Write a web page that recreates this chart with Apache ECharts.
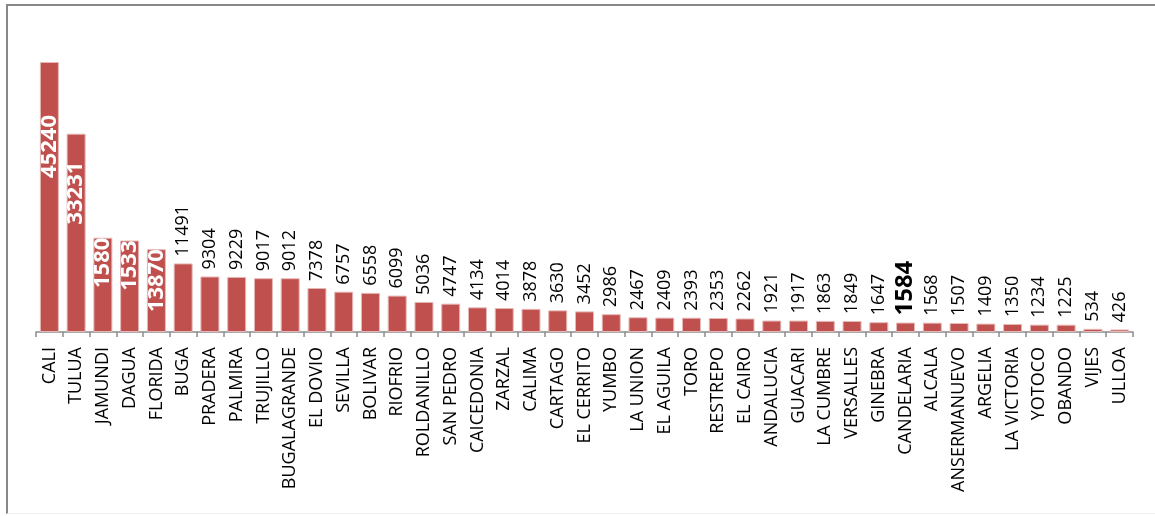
<!DOCTYPE html>
<html>
<head>
<meta charset="utf-8">
<script src="https://cdn.jsdelivr.net/npm/echarts@6/dist/echarts.min.js"></script>
<style>
html,body{margin:0;padding:0;background:#fff;}
#frame{position:absolute;left:6px;top:4px;width:1160px;height:510px;border-left:2px solid #888;border-top:2px solid #888;border-bottom:1px solid #eee;box-sizing:border-box;}
#chart{position:absolute;left:0;top:0;width:1155px;height:516px;}
</style>
</head>
<body>
<div id="frame"></div>
<div id="chart"></div>
<script>
const categories = ["CALI","TULUA","JAMUNDI","DAGUA","FLORIDA","BUGA","PRADERA","PALMIRA","TRUJILLO","BUGALAGRANDE","EL DOVIO","SEVILLA","BOLIVAR","RIOFRIO","ROLDANILLO","SAN PEDRO","CAICEDONIA","ZARZAL","CALIMA","CARTAGO","EL CERRITO","YUMBO","LA UNION","EL AGUILA","TORO","RESTREPO","EL CAIRO","ANDALUCIA","GUACARI","LA CUMBRE","VERSALLES","GINEBRA","CANDELARIA","ALCALA","ANSERMANUEVO","ARGELIA","LA VICTORIA","YOTOCO","OBANDO","VIJES","ULLOA"];
const values = [45240,33231,15800,15330,13870,11491,9304,9229,9017,9012,7378,6757,6558,6099,5036,4747,4134,4014,3878,3630,3452,2986,2467,2409,2393,2353,2262,1921,1917,1863,1849,1647,1584,1568,1507,1409,1350,1234,1225,534,426];
const valueLabels = ["45240","33231","1580","1533","13870","11491","9304","9229","9017","9012","7378","6757","6558","6099","5036","4747","4134","4014","3878","3630","3452","2986","2467","2409","2393","2353","2262","1921","1917","1863","1849","1647","1584","1568","1507","1409","1350","1234","1225","534","426"];
const highlighted = ["CANDELARIA"];

const FONT = "Open Sans";
const insideOffsets = {0: 53, 1: 28};
const data = values.map((v, i) => {
  const item = { value: v };
  if (v >= 13000) {
    item.label = {
      position: 'insideTop', distance: insideOffsets[i] || 0, rotate: 90,
      align: 'right', verticalAlign: 'middle',
      color: '#fff', fontWeight: 'bold', fontSize: 22
    };
  } else if (highlighted.indexOf(categories[i]) >= 0) {
    item.label = { fontWeight: 'bold', fontSize: 24 };
  }
  return item;
});

const chart = echarts.init(document.getElementById('chart'), null, {renderer: 'canvas'});
chart.setOption({
  animation: false,
  grid: { left: 36, right: 22, top: 33.6, bottom: 184, containLabel: false },
  xAxis: {
    type: 'category', data: categories,
    axisLine: { lineStyle: { color: '#8c8c8c', width: 1.5 } },
    axisTick: { show: true, length: 5, lineStyle: { color: '#8c8c8c', width: 1.5 } },
    axisLabel: { rotate: 90, interval: 0, margin: 15, color: '#000', fontFamily: FONT, fontSize: 18 }
  },
  yAxis: { type: 'value', min: 0, max: 50000, show: false, splitLine: { show: false } },
  series: [{
    type: 'bar', data: data, barCategoryGap: '29%',
    itemStyle: { color: '#C0504D', borderColor: '#E6B9B8', borderWidth: 1 },
    label: {
      show: true, position: 'top', rotate: 90, distance: 7,
      align: 'left', verticalAlign: 'middle',
      color: '#000', fontFamily: FONT, fontSize: 18,
      formatter: p => valueLabels[p.dataIndex]
    }
  }]
});
</script>
</body>
</html>
